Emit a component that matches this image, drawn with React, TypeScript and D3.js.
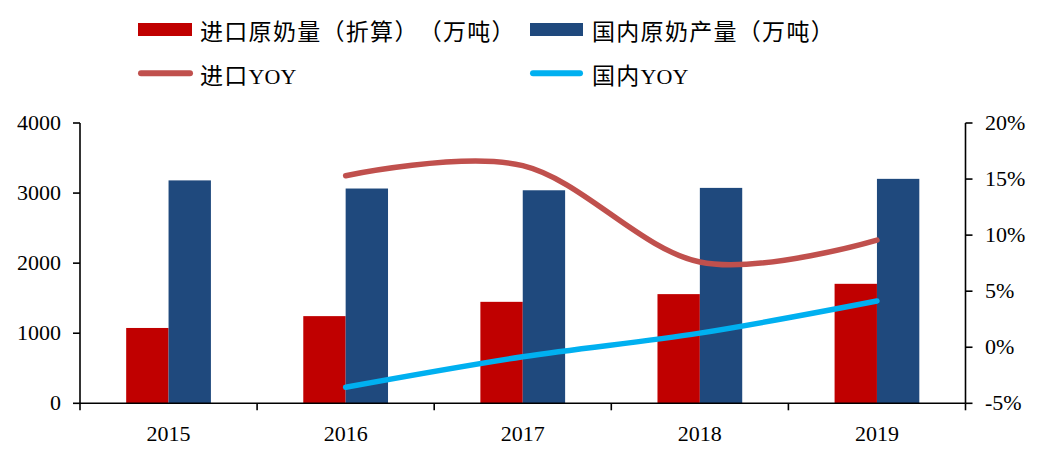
import React from 'react';
import * as d3 from 'd3';

const years = ['2015', '2016', '2017', '2018', '2019'];
const importMilk = [1075, 1244, 1448, 1558, 1705];
const domesticMilk = [3181, 3065, 3040, 3074, 3203];
const importYoy = [null, 15.3, 16.2, 7.6, 9.55];
const domesticYoy = [null, -3.57, -0.85, 1.26, 4.12];
const leftTicks = [0, 1000, 2000, 3000, 4000];
const rightTicks = [-5, 0, 5, 10, 15, 20];

const W = 1044;
const H = 453;
const plot = { left: 80, right: 965.5, top: 123, bottom: 403.3 };
const font = '"Liberation Serif", "Noto Sans CJK SC", serif';
const cjk = '"Noto Sans CJK SC", "Liberation Serif", serif';

const C = {
  importBar: '#C00000',
  domesticBar: '#1F497D',
  importLine: '#C0504D',
  domesticLine: '#00B0F0',
};

export default function App() {
  const x = d3.scaleBand<string>().domain(years).range([plot.left, plot.right]).paddingInner(0).paddingOuter(0);
  const inner = d3.scaleBand<string>().domain(['imp', 'dom']).range([0, x.bandwidth()]).paddingInner(0).paddingOuter(1.09);
  const yL = d3.scaleLinear().domain([0, 4000]).range([plot.bottom, plot.top]);
  const yR = d3.scaleLinear().domain([-5, 20]).range([plot.bottom, plot.top]);

  const cx = (i: number) => (x(years[i]) as number) + x.bandwidth() / 2;
  const line = d3
    .line<number | null>()
    .defined((d) => d !== null)
    .x((_, i) => cx(i))
    .y((d) => yR(d as number))
    .curve(d3.curveCardinal.tension(0));

  const boundaries = years.map((y) => x(y) as number).concat([plot.right]);

  return (
    <svg width={W} height={H} style={{ position: 'absolute', left: 0, top: 0 }}>
      <rect width={W} height={H} fill="#fff" />

      {/* legend */}
      <g fontFamily={cjk} fontSize={23} fill="#000" letterSpacing={1.3} style={{ textSpacingTrim: 'space-all' } as any}>
        <rect x={138} y={23} width={54} height={13} fill={C.importBar} />
        <text x={200} y={39.5}>进口原奶量（折算）（万吨）</text>
        <rect x={530} y={23} width={53} height={13} fill={C.domesticBar} />
        <text x={592} y={39.5}>国内原奶产量（万吨）</text>
        <line x1={141} x2={190} y1={73.3} y2={73.3} stroke={C.importLine} strokeWidth={6} strokeLinecap="round" />
        <text x={200} y={84}>进口<tspan fontFamily={font} fontSize={22} letterSpacing={0}>YOY</tspan></text>
        <line x1={533} x2={580} y1={73.3} y2={73.3} stroke={C.domesticLine} strokeWidth={6} strokeLinecap="round" />
        <text x={592} y={84}>国内<tspan fontFamily={font} fontSize={22} letterSpacing={0}>YOY</tspan></text>
      </g>

      {/* bars */}
      {years.map((yr, i) => (
        <g key={yr} transform={`translate(${x(yr)},0)`}>
          <rect x={inner('imp')} y={yL(importMilk[i])} width={inner.bandwidth()} height={yL(0) - yL(importMilk[i])} fill={C.importBar} />
          <rect x={inner('dom')} y={yL(domesticMilk[i])} width={inner.bandwidth()} height={yL(0) - yL(domesticMilk[i])} fill={C.domesticBar} />
        </g>
      ))}

      {/* lines */}
      <path d={line(importYoy) || ''} fill="none" stroke={C.importLine} strokeWidth={5.5} strokeLinecap="round" />
      <path d={line(domesticYoy) || ''} fill="none" stroke={C.domesticLine} strokeWidth={5.5} strokeLinecap="round" />

      {/* axes */}
      <g stroke="#000" strokeWidth={1.6}>
        <line x1={plot.left} x2={plot.left} y1={plot.top} y2={plot.bottom} />
        <line x1={plot.right} x2={plot.right} y1={plot.top} y2={plot.bottom} />
        <line x1={plot.left} x2={plot.right} y1={plot.bottom} y2={plot.bottom} />
        {leftTicks.map((t) => (
          <line key={'l' + t} x1={plot.left - 7} x2={plot.left} y1={yL(t)} y2={yL(t)} />
        ))}
        {rightTicks.map((t) => (
          <line key={'r' + t} x1={plot.right} x2={plot.right + 7} y1={yR(t)} y2={yR(t)} />
        ))}
        {boundaries.map((b, i) => (
          <line key={'b' + i} x1={b} x2={b} y1={plot.bottom} y2={plot.bottom + 7} />
        ))}
      </g>

      <g fontFamily={font} fontSize={22} fill="#000">
        {leftTicks.map((t) => (
          <text key={'lt' + t} x={61} y={yL(t) + 7} textAnchor="end">{t}</text>
        ))}
        {rightTicks.map((t) => (
          <text key={'rt' + t} x={985} y={yR(t) + 7}>{t}%</text>
        ))}
        {years.map((yr, i) => (
          <text key={'x' + yr} x={cx(i)} y={441} textAnchor="middle">{yr}</text>
        ))}
      </g>
    </svg>
  );
}
